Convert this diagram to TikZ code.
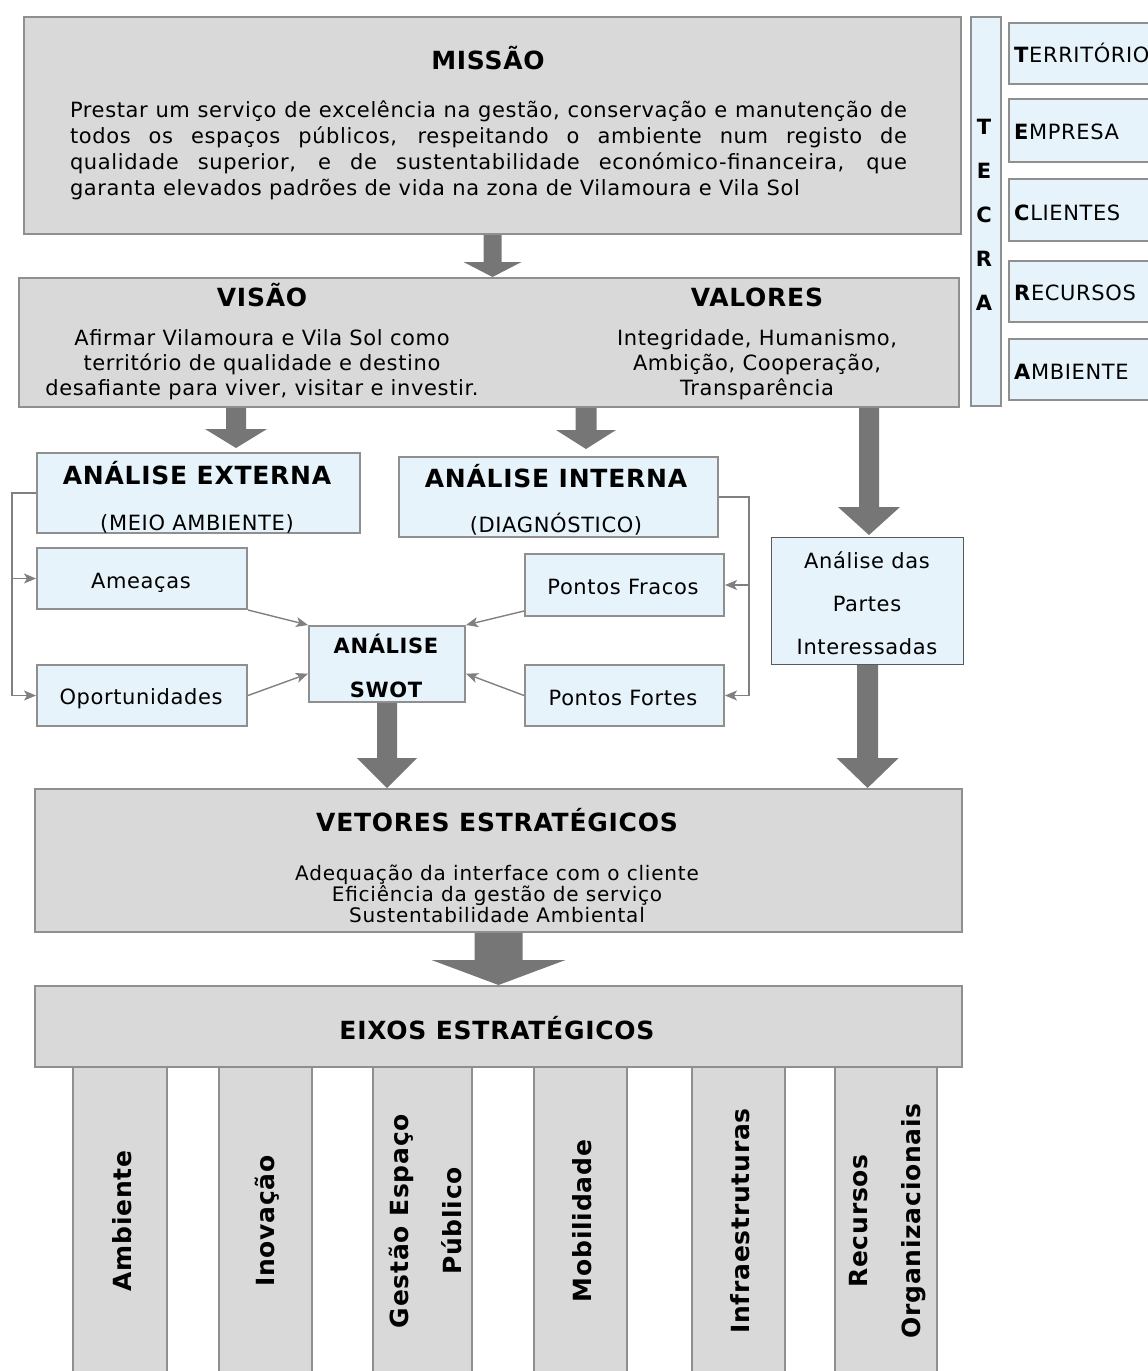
\documentclass[tikz,border=0pt]{standalone}
\usepackage{fontspec}
\setmainfont[LetterSpace=3]{DejaVu Sans}
\newfontfamily\vetfont[LetterSpace=4]{DejaVu Sans}
\usetikzlibrary{arrows.meta,calc}

\definecolor{boxgray}{HTML}{D9D9D9}
\definecolor{edgegray}{HTML}{8F8F8F}
\definecolor{boxblue}{HTML}{E6F3FA}
\definecolor{fatgray}{HTML}{767676}
\definecolor{linkgray}{HTML}{808080}
\definecolor{darkedge}{HTML}{595959}

% fat block arrow: from, to, shaft half width, head half width, head length
\newcommand{\fatarrow}[5]{%
	\fill[fatgray] ($(#1)+(-#3,0)$) -- ($(#2)+(-#3,-#5)$) -- ($(#2)+(-#4,-#5)$) -- (#2)
		-- ($(#2)+(#4,-#5)$) -- ($(#2)+(#3,-#5)$) -- ($(#1)+(#3,0)$) -- cycle;}

\begin{document}
\begin{tikzpicture}[x=1pt,y=-1pt,
	graybox/.style={draw=edgegray,line width=2pt,fill=boxgray,inner sep=0pt,anchor=north west},
	bluebox/.style={draw=edgegray,line width=2pt,fill=boxblue,inner sep=0pt,anchor=north west},
	pillarbox/.style={graybox,minimum height=330pt},
	headtext/.style={font=\fontsize{25}{30}\selectfont\bfseries,inner sep=0pt,text height=18pt,text depth=0pt},
	plaintext/.style={font=\fontsize{21}{25}\selectfont,inner sep=0pt,text height=15pt,text depth=0pt},
	sidetext/.style={plaintext,anchor=west},
	bodytext/.style={font=\fontsize{21}{25}\selectfont,inner sep=0pt,align=center},
	pillartext/.style={rotate=90,font=\fontsize{25}{53}\selectfont\bfseries,inner sep=0pt,align=center},
	thinlink/.style={draw=linkgray,line width=1.4pt,-{Stealth[length=12pt,width=10pt,inset=3pt]}}]
		\useasboundingbox (0,0) rectangle (1148,1371);
		\clip (0,0) rectangle (1148,1371);

		% boxes
		\path (23,16) node(missao) [graybox,minimum width=937pt,minimum height=217pt] {};
		\path (18,277) node(visao) [graybox,minimum width=940pt,minimum height=129pt] {};
		\path (970,16) node(tecra) [bluebox,minimum width=30pt,minimum height=389pt] {};
		\path (1008,22) node(terr) [bluebox,minimum width=170pt,minimum height=61pt] {};
		\path (1008,98) node(empr) [bluebox,minimum width=170pt,minimum height=63pt] {};
		\path (1008,178) node(clie) [bluebox,minimum width=170pt,minimum height=62pt] {};
		\path (1008,260) node(recu) [bluebox,minimum width=170pt,minimum height=61pt] {};
		\path (1008,338) node(ambi) [bluebox,minimum width=170pt,minimum height=61pt] {};
		\path (36,452) node(ext) [bluebox,minimum width=323pt,minimum height=80pt] {};
		\path (398,456) node(int) [bluebox,minimum width=319pt,minimum height=80pt] {};
		\path (36,547) node(ameacas) [bluebox,minimum width=210pt,minimum height=61pt] {};
		\path (36,664) node(oport) [bluebox,minimum width=210pt,minimum height=61pt] {};
		\path (524,553) node(fracos) [bluebox,minimum width=199pt,minimum height=62pt] {};
		\path (524,664) node(fortes) [bluebox,minimum width=199pt,minimum height=61pt] {};
		\path (308,625) node(swot) [bluebox,minimum width=156pt,minimum height=76pt] {};
		\path (771,537) node(partes) [bluebox,draw=darkedge,line width=1.2pt,minimum width=192pt,minimum height=127pt] {};
		\path (34,788) node(vetores) [graybox,minimum width=927pt,minimum height=143pt] {};

		% pillars under the axes box
		\path (72,1066) node(p_amb) [pillarbox,minimum width=94pt] {};
		\path (218,1066) node(p_inov) [pillarbox,minimum width=93pt] {};
		\path (372,1066) node(p_gest) [pillarbox,minimum width=99pt] {};
		\path (533,1066) node(p_mob) [pillarbox,minimum width=93pt] {};
		\path (691,1066) node(p_infra) [pillarbox,minimum width=93pt] {};
		\path (834,1066) node(p_recu) [pillarbox,minimum width=102pt] {};
		\path (34,985) node(eixos) [graybox,minimum width=927pt,minimum height=81pt] {};

		% block arrows
		\path (missao.south) coordinate (mv_from);
		\path (mv_from |- visao.north) coordinate (mv_to);
		\path ($(visao.south)+(-253,0)$) coordinate (ve_from);
		\path ($(ve_from |- ext.north)+(0,-4)$) coordinate (ve_to);
		\path ($(visao.south)+(97,0)$) coordinate (vi_from);
		\path ($(vi_from |- int.north)+(0,-7)$) coordinate (vi_to);
		\path ($(visao.south)+(380,0)$) coordinate (vp_from);
		\path ($(vp_from |- partes.north)+(0,-2)$) coordinate (vp_to);
		\path (swot.south) coordinate (sv_from);
		\path (sv_from |- vetores.north) coordinate (sv_to);
		\path (partes.south) coordinate (pv_from);
		\path (pv_from |- vetores.north) coordinate (pv_to);
		\path (vetores.south) coordinate (ve2_from);
		\path (ve2_from |- eixos.north) coordinate (ve2_to);
		\fatarrow{mv_from}{mv_to}{9}{29}{15}
		\fatarrow{ve_from}{ve_to}{10}{31}{19}
		\fatarrow{vi_from}{vi_to}{10.5}{30}{19}
		\fatarrow{vp_from}{vp_to}{10}{31}{28}
		\fatarrow{sv_from}{sv_to}{10}{30}{30}
		\fatarrow{pv_from}{pv_to}{10.5}{31}{30}
		\fatarrow{ve2_from}{ve2_to}{24}{67}{25}

		% thin links
		\draw[thinlink] (ext.west) -- ++(-24,0) |- (ameacas.west);
		\draw[thinlink] (ext.west) -- ++(-24,0) |- (oport.west);
		\draw[thinlink] (int.east) -- ++(30,0) |- (fracos.east);
		\draw[thinlink] (int.east) -- ++(30,0) |- (fortes.east);
		\draw[thinlink] (ameacas.south east) -- (swot.north west);
		\draw[thinlink] (oport.east) -- (swot.187);
		\draw[thinlink] ([yshift=6pt]fracos.south west) -- (swot.north east);
		\draw[thinlink] (fortes.west) -- (swot.353);

		% texts
		\path (488,60) node(missao_t) [headtext] {MISSÃO};
		\path (488.5,150) node(missao_b) [bodytext,text width=837pt,align=justify,font=\fontsize{21}{26}\selectfont]
			{Prestar um serviço de excelência na gestão, conservação e manutenção de\linebreak
			todos os espaços públicos, respeitando o ambiente num registo de\linebreak
			qualidade superior, e de sustentabilidade económico-financeira, que\linebreak
			garanta elevados padrões de vida na zona de Vilamoura e Vila Sol};
		\path (262,297) node(visao_t) [headtext] {VISÃO};
		\path (757,297) node(valores_t) [headtext] {VALORES};
		\path (262,365) node(visao_b) [bodytext] {Afirmar Vilamoura e Vila Sol como\\território de qualidade e destino\\desafiante para viver, visitar e investir.};
		\path (757,365) node(valores_b) [bodytext] {Integridade, Humanismo,\\Ambição, Cooperação,\\Transparência};
		\path (984,215) node(tecra_t) [bodytext,font=\fontsize{21}{44}\selectfont\bfseries] {T\\E\\C\\R\\A};
		\path (1014,55) node(terr_t) [sidetext] {\textbf{T}ERRITÓRIO};
		\path (1014,132) node(empr_t) [sidetext] {\textbf{E}MPRESA};
		\path (1014,213) node(clie_t) [sidetext] {\textbf{C}LIENTES};
		\path (1014,293) node(recu_t) [sidetext] {\textbf{R}ECURSOS};
		\path (1014,372) node(ambi_t) [sidetext] {\textbf{A}MBIENTE};
		\path (197,475) node(ext_t) [headtext] {ANÁLISE EXTERNA};
		\path (197,523) node(ext_s) [plaintext] {(MEIO AMBIENTE)};
		\path (556,478) node(int_t) [headtext] {ANÁLISE INTERNA};
		\path (556,525) node(int_s) [plaintext] {(DIAGNÓSTICO)};
		\path (141,581) node(ameacas_t) [plaintext] {Ameaças};
		\path (141,697) node(oport_t) [plaintext] {Oportunidades};
		\path (623,587) node(fracos_t) [plaintext] {Pontos Fracos};
		\path (623,698) node(fortes_t) [plaintext] {Pontos Fortes};
		\path (386,666) node(swot_t) [bodytext,font=\fontsize{21}{44}\selectfont\bfseries] {ANÁLISE\\SWOT};
		\path (867,603) node(partes_t) [bodytext,font=\fontsize{21}{43}\selectfont] {Análise das\\Partes\\Interessadas};
		\path (497,822) node(vetores_t) [headtext] {VETORES ESTRATÉGICOS};
		\path (497,894) node(vetores_b) [bodytext,font=\fontsize{20}{21}\vetfont]
			{Adequação da interface com o cliente\\Eficiência da gestão de serviço\\Sustentabilidade Ambiental};
		\path (497,1030) node(eixos_t) [headtext] {EIXOS ESTRATÉGICOS};
		\path (122,1221) node(amb_t) [pillartext] {Ambiente};
		\path (267,1221) node(inov_t) [pillartext] {Inovação};
		\path (425,1221) node(gest_t) [pillartext] {Gestão Espaço\\Público};
		\path (582,1221) node(mob_t) [pillartext] {Mobilidade};
		\path (740,1221) node(infra_t) [pillartext] {Infraestruturas};
		\path (888,1221) node(recu2_t) [pillartext] {Recursos\\Organizacionais};
	\end{tikzpicture}
\end{document}
